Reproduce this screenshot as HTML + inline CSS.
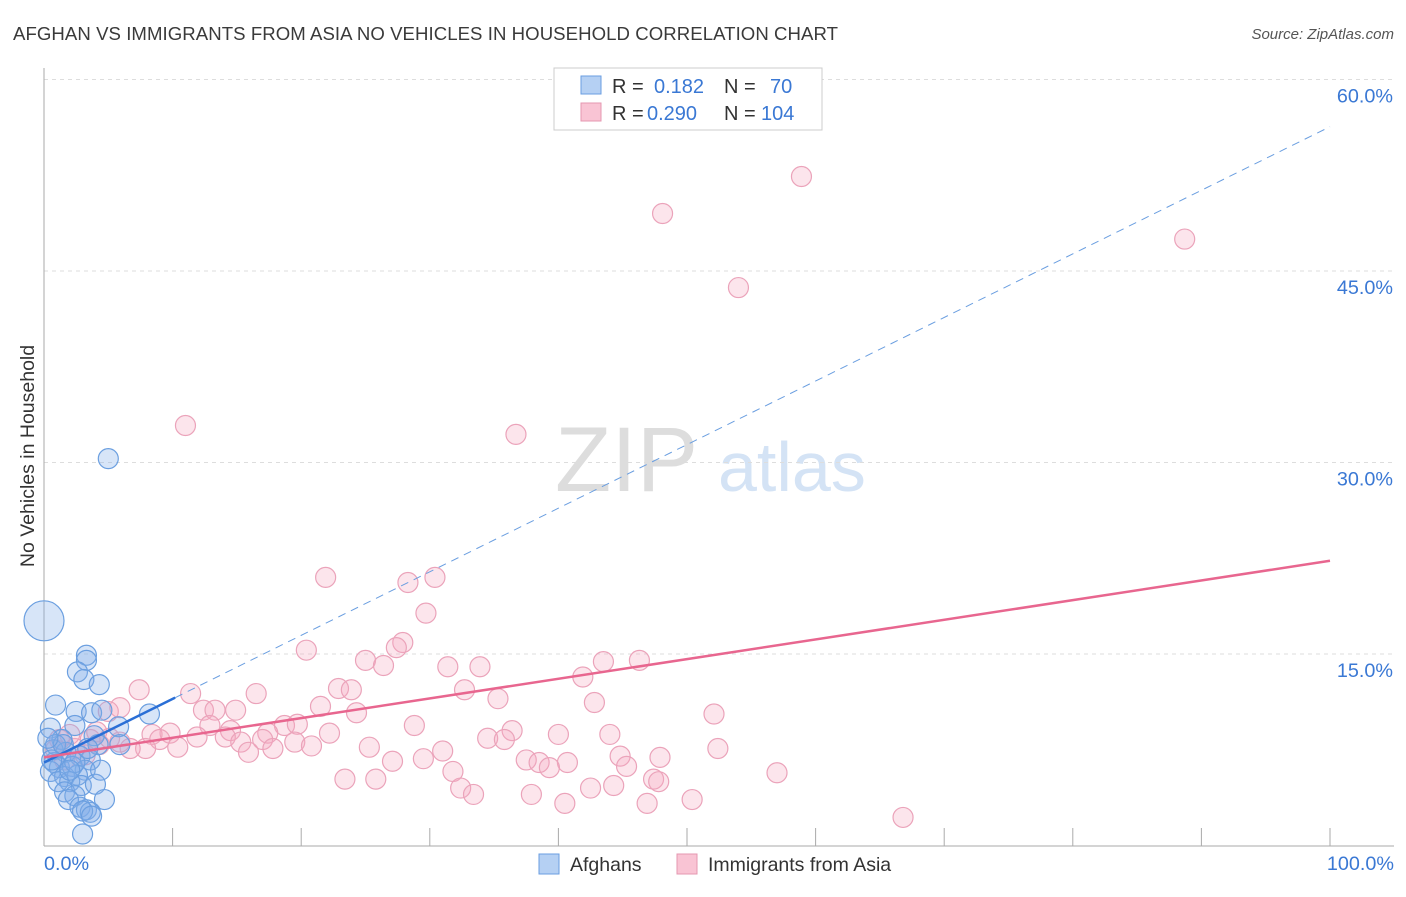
<!DOCTYPE html>
<html><head><meta charset="utf-8"><style>
body{margin:0;background:#fff;font-family:"Liberation Sans",sans-serif}
svg text{font-family:"Liberation Sans",sans-serif}
</style></head><body>
<svg id="chart" width="1406" height="892" xmlns="http://www.w3.org/2000/svg">
<text x="13" y="40" font-size="18.6" fill="#3a3a3a" textLength="825">AFGHAN VS IMMIGRANTS FROM ASIA NO VEHICLES IN HOUSEHOLD CORRELATION CHART</text>
<text x="1394" y="39" font-size="15" fill="#555" font-style="italic" text-anchor="end">Source: ZipAtlas.com</text>
<text x="555" y="491" font-size="92" fill="#ddd" font-family="Liberation Serif">ZIP</text>
<text x="718" y="491" font-size="70" fill="#d4e3f5">atlas</text>
<text transform="translate(34,456) rotate(-90)" font-size="19.5" fill="#333" text-anchor="middle">No Vehicles in Household</text>
<g id="grid"></g><g id="axes"></g><g id="pink"></g><g id="blue"></g><g id="lines"></g>
<g>
<rect x="554" y="68" width="268" height="62" fill="#fff" stroke="#ccc"/>
<rect x="581" y="76" width="20" height="18" fill="#b5d0f3" stroke="#6a9ee0"/>
<text x="612" y="93" font-size="20" fill="#333">R = </text><text x="654" y="93" font-size="20" fill="#3a78d4">0.182</text>
<text x="724" y="93" font-size="20" fill="#333">N = </text><text x="770" y="93" font-size="20" fill="#3a78d4">70</text>
<rect x="581" y="103" width="20" height="18" fill="#f9c4d4" stroke="#e597b0"/>
<text x="612" y="120" font-size="20" fill="#333">R = </text><text x="647" y="120" font-size="20" fill="#3a78d4">0.290</text>
<text x="724" y="120" font-size="20" fill="#333">N = </text><text x="761" y="120" font-size="20" fill="#3a78d4">104</text>
</g>
<g>
<rect x="539" y="854" width="20" height="20" fill="#b5d0f3" stroke="#6a9ee0"/>
<text x="570" y="871" font-size="19.5" fill="#333">Afghans</text>
<rect x="677" y="854" width="20" height="20" fill="#f9c4d4" stroke="#e597b0"/>
<text x="708" y="871" font-size="19.5" fill="#333">Immigrants from Asia</text>
</g>
</svg>
<script>
const yTicks=[15,30,45,60];
const yTickLabels=["15.0%","30.0%","45.0%","60.0%"];
const xTicks=[0,10,20,30,40,50,60,70,80,90,100];
const xEndLabels=["0.0%","100.0%"];
const blueX=[0,5.0,3.3,3.3,2.6,3.1,4.3,0.9,2.5,3.7,4.5,8.2,5.8,2.4,0.5,1.4,3.9,4.2,5.9,0.7,1.7,2.8,3.6,0.8,1.2,2.2,3.2,0.5,1.6,2.6,2.0,1.1,2.9,4.0,1.6,2.4,1.9,4.7,2.8,3.3,3.6,3.0,3.7,3.0,0.9,0.6,2.4,1.5,3.4,2.0,4.4,0.3];
const blueY=[17.6,30.3,14.9,14.5,13.6,13.0,12.6,11.0,10.5,10.4,10.6,10.3,9.3,9.4,9.2,8.3,8.6,7.9,7.9,7.5,7.3,7.0,6.7,6.5,6.1,6.2,5.9,5.8,5.4,5.5,5.0,5.0,4.7,4.8,4.2,3.9,3.6,3.6,3.0,2.8,2.6,2.7,2.3,0.9,7.9,6.7,6.5,7.9,7.6,5.9,5.9,8.4];
const pinkX=[11.0,21.9,28.3,30.4,29.7,27.9,27.4,20.4,25.0,26.4,31.4,33.9,43.5,46.3,36.7,48.1,58.9,54.0,88.7,41.9,42.8,7.4,11.4,16.5,22.9,23.9,32.7,35.3,21.5,24.3,12.4,13.3,14.9,5.9,52.1,28.8,18.7,19.7,12.9,14.5,17.4,22.2,36.4,34.5,35.8,40.0,44.0,8.4,9.8,9.0,11.9,14.1,17.0,19.5,15.3,10.4,7.9,6.7,20.8,25.3,17.8,15.9,31.0,52.4,44.8,47.9,27.1,29.5,37.5,38.5,40.7,39.3,45.3,31.8,57.0,23.4,25.8,47.4,47.8,32.4,33.4,42.5,44.3,37.9,40.5,46.9,50.4,66.8,5.0,1.2,2.4,3.6,4.3,5.1,1.6,0.9,3.2,5.9,4.1,2.0];
const pinkY=[32.9,21.0,20.6,21.0,18.2,15.9,15.5,15.3,14.5,14.1,14.0,14.0,14.4,14.5,32.2,49.5,52.4,43.7,47.5,13.2,11.2,12.2,11.9,11.9,12.3,12.2,12.2,11.5,10.9,10.4,10.6,10.6,10.6,10.8,10.3,9.4,9.4,9.5,9.4,9.0,8.8,8.8,9.0,8.4,8.3,8.7,8.7,8.7,8.8,8.3,8.5,8.5,8.3,8.1,8.1,7.7,7.6,7.6,7.8,7.7,7.6,7.3,7.4,7.6,7.0,6.9,6.6,6.8,6.7,6.5,6.5,6.1,6.2,5.8,5.7,5.2,5.2,5.2,5.0,4.5,4.0,4.5,4.7,4.0,3.3,3.3,3.6,2.2,10.5,8.3,7.6,8.3,7.9,8.4,6.7,7.5,7.1,8.1,8.9,8.7];
const blueTrend=[6.5,56.3];
const pinkTrend=[6.9,22.3];
const NS="http://www.w3.org/2000/svg";
const X=v=>44+v*12.86, Y=v=>845.5-v*12.767;
function mk(parent,tag,attrs){const e=document.createElementNS(NS,tag);for(const k in attrs)e.setAttribute(k,attrs[k]);document.getElementById(parent).appendChild(e);return e;}
yTicks.forEach((t,i)=>{
 const l=mk('grid','line',{x1:44,x2:1394,y1:Y(t),y2:Y(t),stroke:'#ddd','stroke-dasharray':'4,4'});
 
 
 const tx=mk('grid','text',{x:1393,y:Y(t)+23,'font-size':19.8,fill:'#3a78d4','text-anchor':'end'});
 tx.textContent=yTickLabels[i];
 
 
});
const ax=mk('axes','line',{x1:44,x2:44,y1:68,y2:846,stroke:'#aaa'});


const xa=mk('axes','line',{x1:44,x2:1394,y1:846,y2:846,stroke:'#aaa'});


xTicks.forEach(t=>{const l=mk('axes','line',{x1:X(t),x2:X(t),y1:828,y2:846,stroke:'#aaa'});
 
 });
[[0,'start',44],[100,'end',1394]].forEach((d,i)=>{const tx=mk('axes','text',{x:d[2],y:870,'font-size':19.8,fill:'#3a78d4','text-anchor':d[1]});tx.textContent=xEndLabels[i];
 
 });
pinkX.forEach((v,i)=>{const c=mk('pink','circle',{cx:X(v),cy:Y(pinkY[i]),r:10,fill:'rgba(244,168,192,0.3)',stroke:'#eba3ba','stroke-width':1.2});
 
 });
blueX.forEach((v,i)=>{const c=mk('blue','circle',{cx:X(v),cy:Y(blueY[i]),r:i===0?20:10,fill:'rgba(130,175,232,0.32)',stroke:'#6b9fe0','stroke-width':1.2});
 
 });
const bAt=x=>blueTrend[0]+(blueTrend[1]-blueTrend[0])*x/100;
const d1=mk('lines','line',{x1:X(10.2),y1:Y(bAt(10.2)),x2:X(100),y2:Y(bAt(100)),stroke:'#6a9ee0','stroke-width':1,'stroke-dasharray':'8,6'});


const b1=mk('lines','line',{x1:X(0),y1:Y(bAt(0)),x2:X(10.2),y2:Y(bAt(10.2)),stroke:'#2a6fd6','stroke-width':2.5});


const p1=mk('lines','line',{x1:X(0),y1:Y(pinkTrend[0]),x2:X(100),y2:Y(pinkTrend[1]),stroke:'#e8668f','stroke-width':2.5});


</script>
</body></html>
